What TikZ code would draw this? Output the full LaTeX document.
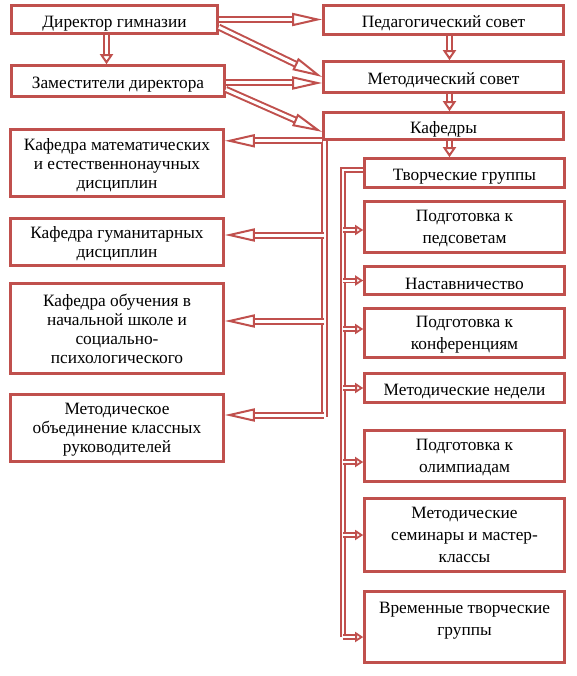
\documentclass[tikz,border=0pt]{standalone}
\usepackage{fontspec}
\setmainfont{Liberation Serif}
\usetikzlibrary{arrows.meta,calc}
\definecolor{redline}{RGB}{192,80,77}
\tikzset{
  blk/.style={draw=redline, line width=2.6pt, align=center, inner sep=1pt,
    font=\fontsize{17.3}{19}\selectfont, execute at begin node={\rule{0pt}{19pt}}},
  ml/.style={text depth=-2pt},
  wide/.style={font=\fontsize{17.3}{22.3}\selectfont, ml},
  dbl/.style={draw=redline, line width=2pt, double=white, double distance=3pt},
  thindbl/.style={draw=redline, line width=1.8pt, double=white, double distance=2pt},
  bigtip/.style={-{Triangle[open, length=30pt, width=13pt, line width=2pt]}},
  midtip/.style={-{Triangle[open, length=10pt, width=13pt, line width=2pt]}},
  smalltip/.style={-{Triangle[open, length=8pt, width=10pt, line width=1.8pt]}}
}

\begin{document}
\begin{tikzpicture}[x=1pt, y=-1pt]
\useasboundingbox (0,0) rectangle (576,676);

% left column
\node[blk, minimum width=206pt, minimum height=28pt] (dir) at (114.5,19.5) {Директор гимназии};
\node[blk, minimum width=213pt, minimum height=31pt] (zam) at (118,81) {Заместители директора};
\node[blk, ml, minimum width=213pt, minimum height=67pt] (mat) at (117,163) {Кафедра математических\\и естественнонаучных\\дисциплин};
\node[blk, ml, minimum width=213pt, minimum height=47pt] (gum) at (117,242) {Кафедра гуманитарных\\дисциплин};
\node[blk, ml, minimum width=213pt, minimum height=90pt] (nach) at (117,328.5) {Кафедра обучения в\\начальной школе и\\социально-\\психологического};
\node[blk, ml, minimum width=213pt, minimum height=67pt] (kl) at (117,428) {Методическое\\объединение классных\\руководителей};

% right column
\node[blk, minimum width=240pt, minimum height=29pt] (ped) at (443.5,20) {Педагогический совет};
\node[blk, minimum width=240pt, minimum height=31pt] (met) at (443.5,77) {Методический совет};
\node[blk, minimum width=240pt, minimum height=27pt] (kaf) at (443.5,126) {Кафедры};
\node[blk, minimum width=200pt, minimum height=29pt] (tg) at (464.5,173) {Творческие группы};
\node[blk, wide, minimum width=200pt, minimum height=51pt] (peds) at (464.5,227) {Подготовка к\\педсоветам};
\node[blk, minimum width=200pt, minimum height=28pt] (nast) at (464.5,280.5) {Наставничество};
\node[blk, wide, minimum width=200pt, minimum height=49pt] (konf) at (464.5,333) {Подготовка к\\конференциям};
\node[blk, minimum width=200pt, minimum height=29pt] (ned) at (464.5,388) {Методические недели};
\node[blk, wide, minimum width=200pt, minimum height=51pt] (olim) at (464.5,456) {Подготовка к\\олимпиадам};
\node[blk, wide, minimum width=200pt, minimum height=73pt] (sem) at (464.5,535) {Методические\\семинары и мастер-\\классы};
\node[blk, wide, minimum width=200pt, minimum height=71pt] (vr) at (464.5,627) {Временные творческие\\группы\\[-6pt]};

% top arrows
\draw[dbl, bigtip] (dir.east) -- (dir.east -| ped.west);
\draw[dbl, bigtip] ($(dir.east)!0.5!(dir.south east)$) -- (met.west);
\draw[dbl, midtip] ([xshift=-8pt]dir.south) -- ([xshift=-8pt]dir.south |- zam.north);
\draw[dbl, bigtip] ([yshift=-2pt]zam.east) -- ([yshift=-2pt]zam.east -| met.west);
\draw[dbl, bigtip] ($(zam.east)!0.5!(zam.south east)$) -- ($(kaf.west)!0.4!(kaf.south west)$);

\draw[dbl, midtip] ([xshift=6pt]ped.south) -- ([xshift=6pt]met.north);
\draw[dbl, midtip] ([xshift=6pt]met.south) -- ([xshift=6pt]kaf.north);
\draw[dbl, midtip] ([xshift=6pt]kaf.south) -- ([xshift=6pt]kaf.south |- tg.north);

% kafedry trunk
\coordinate (ktop) at ([xshift=2pt]kaf.south west);
\coordinate (kbot) at ([yshift=11pt]kl.east -| ktop);
\draw[dbl] (ktop) -- (kbot);
\draw[dbl, bigtip] (kaf.south west) -- (kaf.south west -| mat.east);
\draw[dbl, bigtip] ([yshift=7pt]gum.east -| ktop) -- ([yshift=7pt]gum.east);
\draw[dbl, bigtip] ([yshift=7.5pt]nach.east -| ktop) -- ([yshift=7.5pt]nach.east);
\draw[dbl, bigtip] ([yshift=13pt]kl.east -| ktop) -- ([yshift=13pt]kl.east);

% groups trunk
\coordinate (gtop) at ([xshift=-20pt, yshift=3pt]tg.west);
\coordinate (gbot) at ([yshift=-10pt]vr.west -| gtop);
\draw[thindbl] ([yshift=3pt]tg.west) -- (gtop) -- (gbot);
\foreach \n/\d in {peds/-3, nast/0, konf/4, ned/0, olim/-6, sem/0, vr/-10}
  \draw[thindbl, smalltip] ([yshift=\d pt]\n.west -| gtop) -- ([yshift=\d pt]\n.west);
\end{tikzpicture}
\end{document}
